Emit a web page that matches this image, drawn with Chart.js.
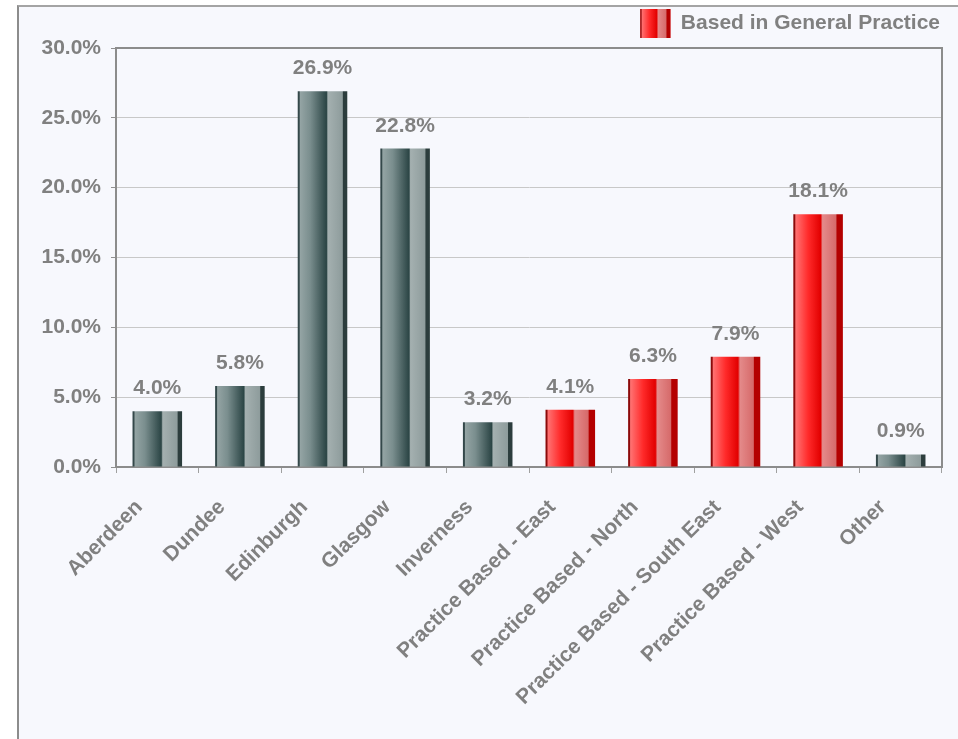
<!DOCTYPE html>
<html>
<head>
<meta charset="utf-8">
<title>Share by location</title>
<script src="https://cdn.jsdelivr.net/npm/chart.js@4.4.0/dist/chart.umd.min.js"></script>
<style>
    html, body { margin: 0; padding: 0; background: #ffffff; }
    #panel {
        position: absolute;
        left: 17px;
        top: 5px;
        width: 939px;
        height: 732px;
        border-left: 2px solid #8c8c8c;
        border-top: 2px solid #a4a4a4;
        background: #f7f8fd;
    }
</style>
</head>
<body>
<div id="panel"><canvas id="locationChart"></canvas></div>
<script>
// Данные
const categories = [
    'Aberdeen', 'Dundee', 'Edinburgh', 'Glasgow', 'Inverness',
    'Practice Based - East', 'Practice Based - North',
    'Practice Based - South East', 'Practice Based - West', 'Other'
];
const shares = [4.0, 5.8, 26.9, 22.8, 3.2, 4.1, 6.3, 7.9, 18.1, 0.9];
const practiceBased = [false, false, false, false, false, true, true, true, true, false];
const yTicks = [0, 5, 10, 15, 20, 25, 30];
const legendText = 'Based in General Practice';

const textGrey = '#808080';
const font = { family: '"Liberation Sans", Arial, sans-serif', size: 21, weight: 'bold' };
const barShare = 0.6;

// Цилиндрическая заливка столбцов
const greyStops = [
    [0, '#34484a'], [0.03, '#34484a'], [0.05, '#94a4a4'], [0.25, '#7a8e8e'],
    [0.58, '#2b4545'], [0.61, '#a4b0b0'], [0.9, '#8e9c9c'], [0.92, '#2c3d3d'], [1, '#2c3d3d']
];
const redStops = [
    [0, '#8c0a0a'], [0.03, '#8c0a0a'], [0.05, '#ff7272'], [0.3, '#ff2a2a'],
    [0.55, '#e20000'], [0.59, '#e48a8a'], [0.86, '#d66a6a'], [0.88, '#b40000'], [1, '#b40000']
];

function barGradient(ctx, left, width, stops) {
    const g = ctx.createLinearGradient(left, 0, left + width, 0);
    stops.forEach(([p, c]) => g.addColorStop(p, c));
    return g;
}

// Рамка вокруг области графика (верх и правый край)
const plotFrame = {
    id: 'plotFrame',
    beforeDatasetsDraw(chart) {
        const { ctx, chartArea: a } = chart;
        ctx.save();
        ctx.strokeStyle = '#8c8c8c';
        ctx.lineWidth = 2;
        ctx.beginPath();
        ctx.moveTo(a.left, a.top);
        ctx.lineTo(a.right, a.top);
        ctx.lineTo(a.right, a.bottom);
        ctx.stroke();
        ctx.restore();
    }
};

// Подписи значений над столбцами
const valueLabels = {
    id: 'valueLabels',
    afterDatasetsDraw(chart) {
        const { ctx } = chart;
        const meta = chart.getDatasetMeta(0);
        ctx.save();
        ctx.font = `bold ${font.size}px ${font.family}`;
        ctx.fillStyle = textGrey;
        ctx.textAlign = 'center';
        ctx.textBaseline = 'alphabetic';
        meta.data.forEach((bar, i) => {
            ctx.fillText(shares[i].toFixed(1) + '%', bar.x, bar.y - 17);
        });
        ctx.restore();
    }
};

// Градиент в значке легенды
const legendSwatch = {
    id: 'legendSwatch',
    afterDraw(chart) {
        const hb = chart.legend.legendHitBoxes[0];
        if (!hb) return;
        const { ctx } = chart;
        const opts = chart.options.plugins.legend.labels;
        ctx.save();
        ctx.fillStyle = barGradient(ctx, hb.left, opts.boxWidth, redStops);
        ctx.fillRect(hb.left, hb.top, opts.boxWidth, opts.boxHeight);
        ctx.restore();
    }
};

const ctx = document.getElementById('locationChart').getContext('2d');
new Chart(ctx, {
    type: 'bar',
    data: {
        labels: categories,
        datasets: [{
            label: legendText,
            data: shares,
            categoryPercentage: 1,
            barPercentage: barShare,
            borderWidth: 0,
            backgroundColor(c) {
                const stops = practiceBased[c.dataIndex] ? redStops : greyStops;
                const chart = c.chart;
                if (c.type !== 'data' || !chart.chartArea) return stops[2][1];
                const x = chart.scales.x;
                const w = x.width / categories.length * barShare;
                const cx = x.getPixelForValue(c.dataIndex);
                return barGradient(chart.ctx, cx - w / 2, w, stops);
            }
        }]
    },
    options: {
        responsive: true,
        maintainAspectRatio: false,
        animation: false,
        layout: { padding: { left: 0, right: 16, top: 0, bottom: 0 } },
        plugins: {
            tooltip: { enabled: false },
            legend: {
                align: 'end',
                onClick: null,
                labels: {
                    boxWidth: 30,
                    boxHeight: 29,
                    padding: 2,
                    color: textGrey,
                    font: font,
                    generateLabels: () => [{
                        text: legendText,
                        fillStyle: '#e20000',
                        strokeStyle: 'rgba(0,0,0,0)',
                        fontColor: textGrey,
                        lineWidth: 0,
                        hidden: false,
                        datasetIndex: 0
                    }]
                }
            }
        },
        scales: {
            x: {
                grid: {
                    offset: true,
                    drawOnChartArea: false,
                    tickLength: 6,
                    tickColor: '#a0a0a0'
                },
                border: { color: '#8c8c8c', width: 2 },
                ticks: {
                    color: textGrey,
                    font: font,
                    minRotation: 45,
                    maxRotation: 45,
                    autoSkip: false,
                    padding: 22,
                    labelOffset: -18
                },
                afterFit(scale) { scale.height = 272; }
            },
            y: {
                min: 0,
                max: 30,
                afterBuildTicks(scale) {
                    scale.ticks = yTicks.map(v => ({ value: v }));
                },
                grid: {
                    color: '#c8c8c8',
                    tickColor: '#909090',
                    tickLength: 5
                },
                border: { color: '#8c8c8c', width: 2 },
                ticks: {
                    color: textGrey,
                    font: font,
                    padding: 10,
                    callback: v => v.toFixed(1) + '%'
                },
                afterFit(scale) { scale.width = 97; }
            }
        }
    },
    plugins: [plotFrame, valueLabels, legendSwatch]
});
</script>
</body>
</html>
